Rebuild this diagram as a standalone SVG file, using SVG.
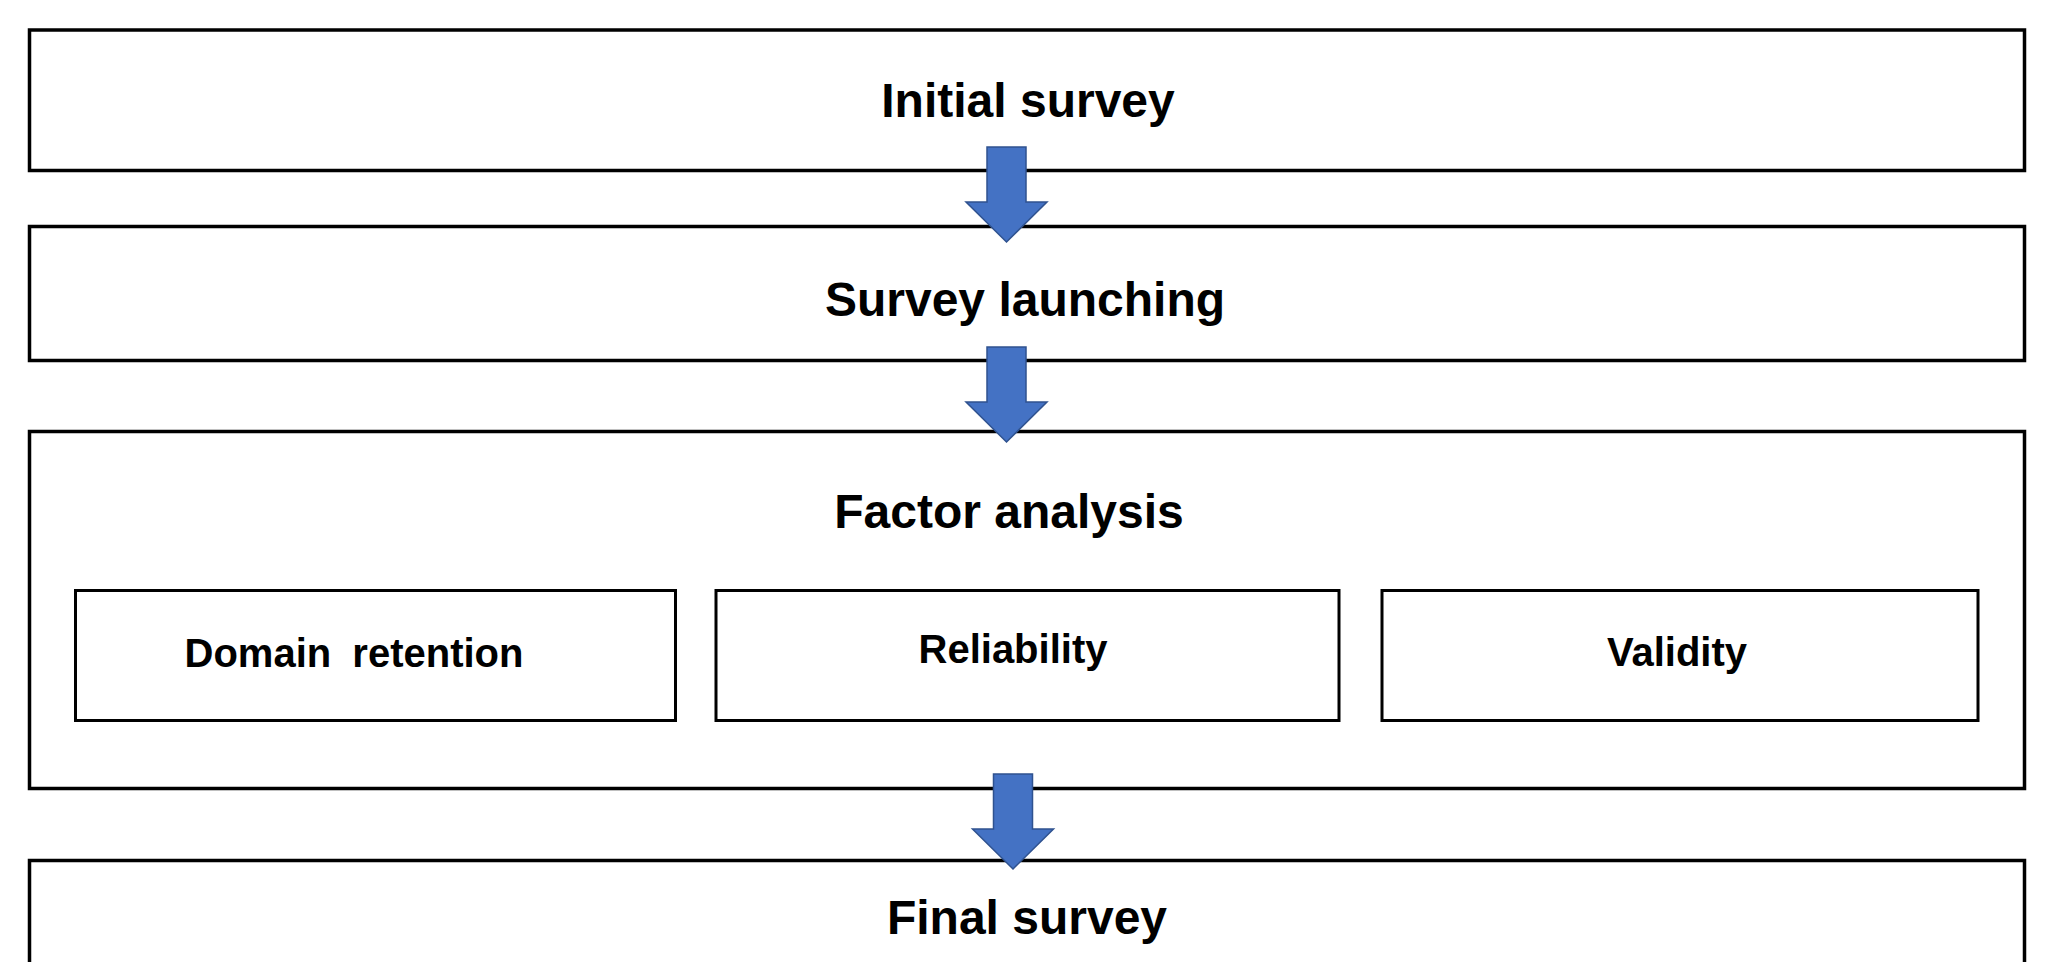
<svg xmlns="http://www.w3.org/2000/svg" xmlns:xlink="http://www.w3.org/1999/xlink" width="2045" height="962" viewBox="0 0 2045 962">
  <style>
    .box { fill: #ffffff; stroke: #000000; stroke-width: 3.5; }
    .sub { fill: #ffffff; stroke: #000000; stroke-width: 3; }
    .title { font-family: "Liberation Sans", Arial, sans-serif; font-weight: bold; font-size: 48px; fill: #000000; text-anchor: middle; }
    .label { font-family: "Liberation Sans", Arial, sans-serif; font-weight: bold; font-size: 40px; fill: #000000; text-anchor: middle; }
    .flow { fill: #4472C4; stroke: #2F528F; stroke-width: 1.5; }
  </style>
  <defs>
    <!-- block arrow pointing down, origin at top centre of the shaft -->
    <path id="down" d="M-19.5,0 H19.5 V55 H40.5 L0,95 L-40.5,55 H-19.5 Z"/>
  </defs>

  <rect width="2045" height="962" fill="#ffffff"/>

  <g id="initial-survey">
    <rect class="box" x="29.5" y="30" width="1995" height="140.5"/>
    <text class="title" x="1028" y="117">Initial survey</text>
  </g>

  <g id="survey-launching">
    <rect class="box" x="29.5" y="226.5" width="1995" height="134"/>
    <text class="title" x="1025" y="316">Survey launching</text>
  </g>

  <g id="factor-analysis">
    <rect class="box" x="29.5" y="431.5" width="1995" height="357"/>
    <text class="title" x="1009" y="528">Factor analysis</text>
  </g>

  <g id="domain-retention">
    <rect class="sub" x="75.5" y="590.5" width="600" height="130"/>
    <text class="label" x="354" y="667" word-spacing="10">Domain retention</text>
  </g>

  <g id="reliability">
    <rect class="sub" x="716" y="590.5" width="623" height="130"/>
    <text class="label" x="1013" y="663">Reliability</text>
  </g>

  <g id="validity">
    <rect class="sub" x="1382" y="590.5" width="596" height="130"/>
    <text class="label" x="1677" y="666">Validity</text>
  </g>

  <g id="final-survey">
    <rect class="box" x="29.5" y="860.5" width="1995" height="200"/>
    <text class="title" x="1027" y="934">Final survey</text>
  </g>

  <g id="connectors">
    <use class="flow" xlink:href="#down" href="#down" x="1006.5" y="147"/>
    <use class="flow" xlink:href="#down" href="#down" x="1006.5" y="347"/>
    <use class="flow" xlink:href="#down" href="#down" x="1013" y="774"/>
  </g>
</svg>
